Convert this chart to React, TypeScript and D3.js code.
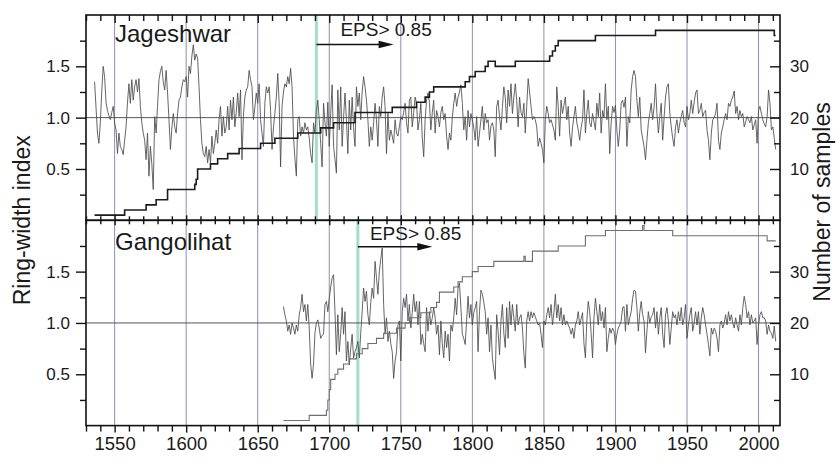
import { useEffect, useRef } from 'react'
import * as d3 from 'd3'

const WIDTH = 839
const HEIGHT = 462
const FONT = "'Liberation Sans', Arial, sans-serif"

// Ring-width index, Jageshwar, one value per year from jagStart
const jagStart = 1536
const jagRwi = [
  1.35, 1.10, 0.85, 0.75,
  0.95, 1.25, 1.50, 1.40, 1.15, 1.07, 1.02, 0.98, 1.05, 1.11,
  0.95, 0.88, 0.65, 0.85, 0.72, 0.69, 0.64, 0.78, 0.91, 1.15,
  1.33, 1.14, 1.37, 1.17, 1.30, 1.37, 1.25, 1.38, 1.11, 0.95,
  0.85, 0.78, 0.59, 0.85, 0.43, 0.72, 0.55, 0.30, 1.01, 0.85,
  1.11, 1.37, 1.45, 1.50, 1.35, 1.27, 1.46, 1.24, 0.98, 0.69,
  0.90, 1.04, 0.91, 0.85, 1.04, 1.17, 1.20, 1.30, 1.37, 1.35,
  1.40, 1.20, 1.50, 1.43, 1.60, 1.71, 1.56, 1.62, 1.58, 1.30,
  0.98, 0.75, 0.65, 0.62, 0.72, 0.56, 0.69, 0.56, 0.82, 0.65,
  0.75, 0.88, 0.75, 0.98, 1.11, 0.82, 1.01, 0.85, 0.91, 1.11,
  0.88, 1.17, 0.98, 1.20, 0.91, 1.05, 1.24, 1.01, 1.27, 0.59,
  1.01, 1.20, 1.27, 1.30, 1.46, 1.37, 1.30, 0.98, 1.10, 1.24,
  1.14, 1.33, 0.98, 0.85, 0.72, 1.14, 1.30, 1.24, 1.30, 1.07,
  0.69, 0.90, 1.04, 1.20, 1.43, 1.14, 0.52, 1.11, 1.25, 1.33,
  1.30, 1.40, 1.33, 1.48, 1.30, 0.82, 0.60, 0.43, 0.98, 1.01,
  0.82, 0.91, 0.85, 0.95, 0.88, 0.91, 0.80, 0.65, 0.56, 0.95,
  0.85, 1.07, 1.17, 0.98, 0.75, 0.52, 1.14, 0.95, 0.82, 1.15,
  0.72, 1.04, 1.32, 0.72, 0.60, 0.46, 1.27, 0.88, 1.30, 0.72,
  1.00, 1.24, 0.98, 0.65, 1.17, 0.88, 1.20, 0.90, 0.72, 1.30,
  1.11, 1.24, 0.98, 1.25, 1.40, 1.30, 1.17, 0.98, 0.72, 0.91,
  0.78, 0.95, 1.14, 0.98, 0.72, 1.11, 1.01, 1.20, 1.30, 1.11,
  0.65, 1.04, 0.78, 0.88, 0.82, 0.75, 0.98, 0.85, 0.82, 0.91,
  1.01, 0.98, 1.05, 1.14, 0.95, 0.85, 1.17, 1.20, 0.91, 1.05,
  1.20, 1.14, 0.88, 0.98, 1.14, 0.80, 0.62, 0.98, 1.17, 1.24,
  1.15, 0.88, 1.05, 1.17, 0.85, 1.07, 1.01, 0.91, 1.05, 1.11,
  0.98, 1.04, 0.82, 0.69, 0.85, 0.78, 1.00, 1.14, 1.24, 1.11,
  1.20, 1.25, 1.32, 1.14, 0.88, 1.01, 0.78, 1.07, 0.91, 1.04,
  0.98, 0.90, 0.78, 1.01, 0.72, 0.85, 0.98, 1.11, 0.88, 1.04,
  0.95, 0.98, 0.78, 0.92, 0.95, 0.88, 0.62, 1.11, 1.17, 1.01,
  0.88, 1.10, 1.30, 1.20, 0.95, 1.27, 1.11, 1.33, 1.04, 1.20,
  1.33, 1.17, 0.91, 1.20, 1.05, 1.01, 1.14, 0.85, 1.11, 1.38,
  1.25, 1.11, 0.98, 1.01, 0.98, 0.91, 0.72, 0.80, 0.75, 0.69,
  0.56, 0.98, 1.11, 1.04, 0.95, 0.98, 0.93, 0.88, 0.78, 1.30,
  1.11, 0.82, 1.17, 1.04, 1.12, 1.20, 0.98, 1.11, 0.85, 0.72,
  0.90, 1.01, 1.11, 0.95, 0.88, 0.78, 0.90, 0.98, 1.27, 0.85,
  1.04, 1.17, 0.95, 0.91, 1.04, 0.96, 0.88, 1.14, 1.01, 1.24,
  0.85, 1.07, 1.00, 1.33, 0.98, 1.11, 0.65, 0.95, 1.11, 1.05,
  1.12, 0.88, 0.72, 0.88, 1.14, 1.17, 1.10, 1.20, 0.72, 1.01,
  0.95, 1.27, 1.40, 1.46, 1.40, 1.17, 1.01, 1.20, 0.88, 0.80,
  0.72, 0.59, 0.78, 0.95, 1.04, 1.14, 0.98, 1.10, 1.33, 1.04,
  0.85, 1.01, 1.14, 0.78, 1.00, 1.20, 1.30, 1.33, 1.04, 0.91,
  0.80, 0.72, 0.91, 0.98, 0.85, 0.95, 1.01, 1.07, 0.95, 0.91,
  1.11, 0.98, 1.04, 1.17, 1.04, 1.15, 1.24, 1.27, 1.04, 1.07,
  1.14, 1.01, 1.05, 1.07, 0.88, 0.78, 0.59, 0.85, 0.98, 1.00,
  1.04, 1.14, 0.78, 0.69, 0.85, 0.91, 0.98, 1.04, 0.98, 1.14,
  1.11, 1.17, 1.20, 1.26, 1.04, 1.11, 0.98, 1.07, 1.01, 1.04,
  0.91, 0.96, 1.01, 0.98, 0.95, 1.01, 0.88, 0.93, 0.98, 0.75,
  1.07, 1.11, 1.04, 0.98, 0.94, 0.91, 1.01, 1.27, 1.14, 0.88,
  0.91, 0.80, 0.69,
]

// Ring-width index, Gangolihat, one value per year from ganStart
const ganStart = 1668
const ganRwi = [
  1.16, 1.08,
  1.02, 0.92, 0.98, 0.89, 1.00, 0.95, 0.89, 0.98, 0.92, 1.08,
  1.15, 1.28, 1.11, 1.18, 1.02, 1.18, 0.95, 0.60, 0.46, 0.60,
  0.90, 1.00, 1.03, 0.95, 0.85, 0.88, 0.89, 1.18, 1.21, 1.11,
  1.24, 1.35, 1.44, 1.47, 1.11, 0.69, 1.08, 0.72, 0.90, 1.15,
  0.89, 1.11, 0.63, 0.82, 0.59, 0.75, 0.89, 0.66, 0.72, 0.76,
  0.82, 0.66, 0.90, 1.11, 1.34, 1.21, 1.31, 1.08, 0.98, 1.20,
  1.34, 1.24, 1.60, 1.44, 1.28, 1.50, 1.62, 1.73, 1.18, 0.89,
  1.05, 0.82, 0.92, 0.80, 0.72, 0.46, 0.63, 0.72, 0.98, 1.02,
  0.63, 1.11, 1.24, 1.15, 1.28, 1.02, 1.18, 0.95, 1.10, 1.28,
  1.11, 1.21, 0.98, 1.21, 0.79, 0.89, 0.80, 0.72, 1.15, 0.92,
  1.11, 0.98, 1.05, 1.15, 1.05, 0.89, 0.98, 0.69, 1.02, 0.80,
  0.66, 0.92, 0.76, 0.89, 0.63, 0.98, 0.92, 1.05, 1.24, 1.08,
  1.34, 1.39, 1.15, 0.89, 0.85, 0.79, 1.02, 1.26, 1.05, 1.18,
  0.98, 1.10, 1.15, 1.21, 0.72, 1.11, 1.32, 1.28, 1.20, 1.11,
  0.89, 1.05, 0.72, 0.98, 0.66, 0.55, 0.45, 1.08, 0.92, 0.69,
  1.02, 1.18, 0.90, 0.76, 1.15, 0.85, 1.21, 0.98, 1.18, 1.05,
  0.92, 1.18, 0.98, 1.05, 1.08, 0.95, 0.70, 0.56, 1.02, 1.11,
  1.02, 1.11, 1.05, 1.10, 1.06, 1.02, 0.98, 1.00, 0.89, 0.76,
  1.02, 0.98, 1.08, 1.15, 1.05, 1.18, 0.98, 1.10, 1.28, 1.05,
  1.18, 1.02, 1.15, 0.98, 1.08, 0.98, 1.02, 0.98, 0.95, 0.89,
  0.95, 0.85, 0.98, 1.02, 1.11, 0.98, 1.04, 1.10, 0.80, 0.66,
  1.02, 1.21, 1.11, 0.90, 0.66, 1.05, 1.24, 1.11, 0.98, 1.18,
  1.02, 1.11, 0.95, 1.15, 0.72, 0.85, 0.95, 0.90, 0.95, 0.92,
  0.79, 0.89, 0.95, 0.98, 1.02, 1.15, 1.16, 0.92, 1.18, 0.98,
  1.05, 1.11, 1.24, 1.32, 1.31, 1.15, 0.92, 1.10, 1.21, 1.08,
  1.02, 0.71, 0.92, 1.11, 1.00, 1.06, 1.08, 1.15, 0.95, 1.11,
  0.89, 1.05, 1.15, 0.89, 0.76, 1.08, 1.15, 1.02, 0.79, 0.95,
  1.11, 1.05, 1.08, 0.98, 1.11, 1.02, 1.15, 0.98, 1.05, 1.18,
  0.85, 0.98, 1.08, 1.15, 0.92, 1.00, 1.11, 0.98, 1.11, 0.89,
  1.05, 1.15, 1.08, 0.98, 0.89, 0.79, 0.68, 0.95, 0.89, 0.95,
  0.92, 0.85, 0.72, 0.98, 1.02, 0.95, 1.00, 1.08, 0.98, 1.11,
  1.02, 1.08, 1.00, 0.95, 1.05, 0.98, 0.92, 1.08, 0.98, 1.15,
  1.26, 1.18, 1.05, 1.11, 0.98, 1.08, 1.00, 1.02, 1.05, 0.79,
  0.98, 1.08, 1.11, 1.05, 1.05, 1.02, 0.89, 0.98, 0.92, 0.90,
  0.85, 0.97, 0.82,
]

// Number of samples: year where the count changes, and the count from then on
const jagDepthYears = [1536, 1557, 1572, 1579, 1587, 1606, 1607, 1608, 1617, 1622, 1629, 1637, 1652, 1662, 1678, 1694, 1703, 1718, 1744, 1761, 1767, 1770, 1773, 1795, 1798, 1802, 1809, 1811, 1816, 1830, 1854, 1856, 1858, 1860, 1886, 1928, 2011, 2012]
const jagDepthCounts = [1, 2, 3, 4, 6, 7, 8, 10, 11, 12, 13, 14, 15, 16, 17, 18, 19, 21, 22, 23, 24, 25, 26, 27, 28, 29, 30, 31, 30, 31, 32, 33, 34, 35, 36, 37, 36, 36]
const ganDepthYears = [1668, 1686, 1698, 1699, 1700, 1701, 1704, 1706, 1710, 1714, 1719, 1723, 1727, 1733, 1738, 1747, 1753, 1756, 1764, 1771, 1775, 1777, 1787, 1790, 1793, 1800, 1804, 1815, 1836, 1837, 1842, 1860, 1879, 1893, 1919, 1920, 1940, 2006, 2012]
const ganDepthCounts = [1, 2, 3, 5, 7, 9, 10, 11, 12, 13, 14, 15, 16, 17, 18, 19, 20, 21, 22, 23, 24, 26, 27, 28, 29, 30, 31, 32, 33, 32, 34, 35, 37, 38, 39, 38, 37, 36, 36]

const sites = ['Jageshwar', 'Gangolihat']
const epsYears = [1691, 1720] // first year with EPS > 0.85
const epsArrowEnds = [1745, 1772]
const epsLabel = 'EPS> 0.85'

const xTicks = [1550, 1600, 1650, 1700, 1750, 1800, 1850, 1900, 1950, 2000]
const rwiTicks = [0.5, 1.0, 1.5]
const rwiMinor = [0.25, 0.75, 1.25, 1.75]
const depthTicks = [10, 20, 30]
const depthMinor = [5, 15, 25, 35]

export default function App() {
  const svgRef = useRef<SVGSVGElement>(null)

  useEffect(() => {
    if (!svgRef.current) return
    const svg = d3.select(svgRef.current)
    svg.selectAll('*').remove()

    const left = 86
    const right = 780
    const panelH = 205.3

    const x = d3.scaleLinear().domain([1530, 2015]).range([left, right])
    const xMinor = d3.range(1530, 2015, 10).filter(d => d % 50 !== 0)

    const panels = [
      {
        name: sites[0], start: jagStart, rwi: jagRwi, dYears: jagDepthYears, dCounts: jagDepthCounts,
        eps: epsYears[0], arrowEnd: epsArrowEnds[0], top: 15,
        nameDy: 27, epsDx: 24, epsDy: 21, arrowDy: 29.5,
        depthColor: '#1c1c1c', depthWidth: 1.6,
      },
      {
        name: sites[1], start: ganStart, rwi: ganRwi, dYears: ganDepthYears, dCounts: ganDepthCounts,
        eps: epsYears[1], arrowEnd: epsArrowEnds[1], top: 15 + panelH,
        nameDy: 30, epsDx: 12, epsDy: 20, arrowDy: 26.5,
        depthColor: '#6e6e6e', depthWidth: 1.1,
      },
    ]

    panels.forEach((p, pi) => {
      const top = p.top
      const bottom = top + panelH
      const yL = d3.scaleLinear().domain([0, 2]).range([bottom, top])
      const yR = d3.scaleLinear().domain([0, 40]).range([bottom, top])
      const g = svg.append('g')

      // vertical grid every 50 years
      g.selectAll('.grid')
        .data(xTicks)
        .enter()
        .append('line')
        .attr('x1', d => x(d))
        .attr('x2', d => x(d))
        .attr('y1', top)
        .attr('y2', bottom)
        .attr('stroke', '#8e8eb8')
        .attr('stroke-width', 1)

      // EPS cut-off line
      g.append('line')
        .attr('x1', x(p.eps))
        .attr('x2', x(p.eps))
        .attr('y1', top)
        .attr('y2', bottom)
        .attr('stroke', '#a6dccb')
        .attr('stroke-width', 3)

      // reference line at index 1.0
      g.append('line')
        .attr('x1', left)
        .attr('x2', right)
        .attr('y1', yL(1))
        .attr('y2', yL(1))
        .attr('stroke', '#555')
        .attr('stroke-width', 1)

      // ring-width index
      const rwiLine = d3.line<number>()
        .x((d, i) => x(p.start + i))
        .y(d => yL(d))
      g.append('path')
        .datum(p.rwi)
        .attr('d', rwiLine)
        .attr('fill', 'none')
        .attr('stroke', '#4a4a4a')
        .attr('stroke-width', 0.85)

      // sample depth
      const depthLine = d3.line<number>()
        .x((d, i) => x(p.dYears[i]))
        .y(d => yR(d))
        .curve(d3.curveStepAfter)
      g.append('path')
        .datum(p.dCounts)
        .attr('d', depthLine)
        .attr('fill', 'none')
        .attr('stroke', p.depthColor)
        .attr('stroke-width', p.depthWidth)

      // frame
      g.append('rect')
        .attr('x', left)
        .attr('y', top)
        .attr('width', right - left)
        .attr('height', panelH)
        .attr('fill', 'none')
        .attr('stroke', '#111')
        .attr('stroke-width', 1.6)

      const styleAxis = (ax: any) => {
        ax.select('.domain').remove()
        ax.selectAll('line').attr('stroke', '#111').attr('stroke-width', 1.4)
        ax.selectAll('text').style('font-family', FONT).style('font-size', '17px').attr('fill', '#1a1a1a')
      }

      // left axis (ticks outward)
      styleAxis(g.append('g')
        .attr('transform', `translate(${left},0)`)
        .call(d3.axisLeft(yL).tickValues(rwiTicks).tickSize(10).tickPadding(6).tickFormat(d3.format('.1f'))))
      styleAxis(g.append('g')
        .attr('transform', `translate(${left},0)`)
        .call(d3.axisLeft(yL).tickValues(rwiMinor).tickSize(6).tickFormat(() => '')))

      // right axis (ticks inward)
      styleAxis(g.append('g')
        .attr('transform', `translate(${right},0)`)
        .call(d3.axisRight(yR).tickValues(depthTicks).tickSizeInner(-10).tickSizeOuter(0).tickPadding(10).tickFormat(d3.format('d'))))
      styleAxis(g.append('g')
        .attr('transform', `translate(${right},0)`)
        .call(d3.axisRight(yR).tickValues(depthMinor).tickSizeInner(-6).tickSizeOuter(0).tickFormat(() => '')))

      // x ticks on top edge of panel
      if (pi === 0) {
        styleAxis(g.append('g')
          .attr('transform', `translate(0,${top})`)
          .call(d3.axisTop(x).tickValues(xTicks).tickSizeInner(-8).tickSizeOuter(0).tickFormat(() => '')))
        styleAxis(g.append('g')
          .attr('transform', `translate(0,${top})`)
          .call(d3.axisTop(x).tickValues(xMinor).tickSizeInner(-6).tickSizeOuter(0).tickFormat(() => '')))
      } else {
        // shared boundary: ticks cross the line
        ;[d3.axisTop(x), d3.axisBottom(x)].forEach(axis => {
          styleAxis(g.append('g')
            .attr('transform', `translate(0,${top})`)
            .call(axis.tickValues(xTicks).tickSizeInner(5).tickSizeOuter(0).tickFormat(() => '')))
        })
        ;[d3.axisTop(x), d3.axisBottom(x)].forEach(axis => {
          styleAxis(g.append('g')
            .attr('transform', `translate(0,${top})`)
            .call(axis.tickValues(xMinor).tickSizeInner(4).tickSizeOuter(0).tickFormat(() => '')))
        })
        // bottom axis with labels (ticks outward)
        const bx = g.append('g')
          .attr('transform', `translate(0,${bottom})`)
          .call(d3.axisBottom(x).tickValues(xTicks).tickSizeInner(7).tickSizeOuter(0).tickPadding(4).tickFormat(d3.format('d')))
        styleAxis(bx)
        bx.selectAll('text').style('font-size', '18.5px')
        styleAxis(g.append('g')
          .attr('transform', `translate(0,${bottom})`)
          .call(d3.axisBottom(x).tickValues(xMinor).tickSizeInner(6).tickSizeOuter(0).tickFormat(() => '')))
      }

      // site name
      g.append('text')
        .attr('x', 115)
        .attr('y', top + p.nameDy)
        .style('font-family', FONT)
        .style('font-size', '24px')
        .attr('fill', '#1a1a1a')
        .text(p.name)

      // EPS annotation with arrow
      const ay = top + p.arrowDy
      const ax2 = x(p.arrowEnd)
      g.append('line')
        .attr('x1', x(p.eps))
        .attr('x2', ax2 - 10)
        .attr('y1', ay)
        .attr('y2', ay)
        .attr('stroke', '#111')
        .attr('stroke-width', 1.6)
      g.append('path')
        .attr('d', `M${ax2},${ay}L${ax2 - 15},${ay - 3.8}L${ax2 - 15},${ay + 3.8}Z`)
        .attr('fill', '#111')
      g.append('text')
        .attr('x', x(p.eps) + p.epsDx)
        .attr('y', top + p.epsDy)
        .style('font-family', FONT)
        .style('font-size', '19px')
        .attr('fill', '#1a1a1a')
        .text(epsLabel)
    })

    // axis titles
    svg.append('text')
      .attr('transform', `translate(30,${15 + panelH}) rotate(-90)`)
      .attr('text-anchor', 'middle')
      .style('font-family', FONT)
      .style('font-size', '23px')
      .attr('fill', '#1a1a1a')
      .text('Ring-width index')

    svg.append('text')
      .attr('transform', `translate(830,202) rotate(-90)`)
      .attr('text-anchor', 'middle')
      .style('font-family', FONT)
      .style('font-size', '23px')
      .attr('fill', '#1a1a1a')
      .text('Number of samples')
  }, [])

  return (
    <div style={{ position: 'absolute', left: 0, top: 0 }}>
      <svg ref={svgRef} width={WIDTH} height={HEIGHT} style={{ display: 'block', background: '#fff' }} />
    </div>
  )
}
